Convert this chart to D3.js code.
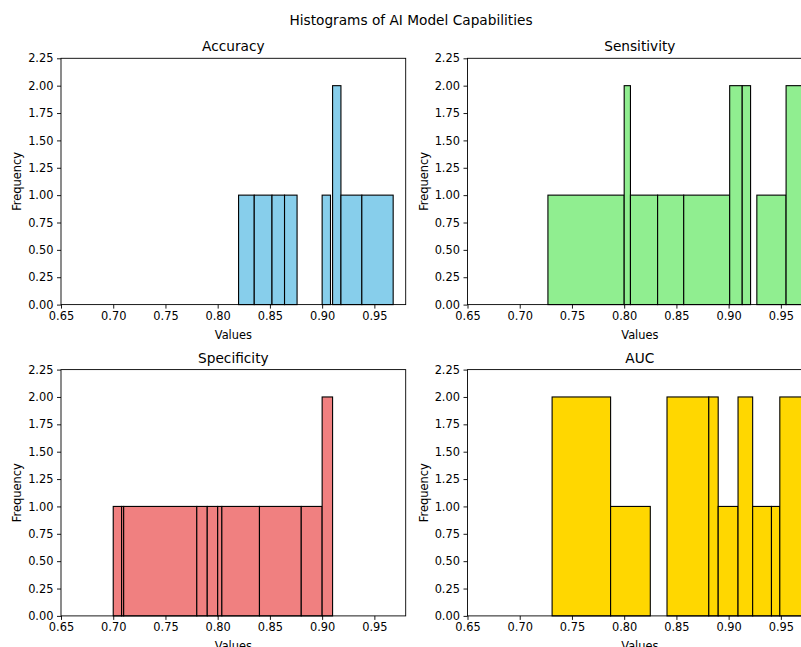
<!DOCTYPE html>
<html>
<head>
<meta charset="utf-8">
<script src="https://cdn.jsdelivr.net/npm/d3@7"></script>
<style>
  body { margin: 0; background: #fff; }
  svg { display: block; font-family: "DejaVu Sans", sans-serif; }
</style>
</head>
<body>
<script>
// Histogram bins (edges + counts per metric)
const titles = ["Accuracy", "Sensitivity", "Specificity", "AUC"];
const colors = ["#87ceeb", "#90ee90", "#f08080", "#ffd700"];

const accuracyEdges = [0.820, 0.835, 0.852, 0.864, 0.876, 0.900, 0.908, 0.910, 0.918, 0.938, 0.968];
const accuracyCounts = [1, 1, 1, 1, 0, 1, 0, 2, 1, 1];
const sensitivityEdges = [0.727, 0.800, 0.806, 0.832, 0.857, 0.901, 0.913, 0.921, 0.927, 0.955, 0.985];
const sensitivityCounts = [1, 2, 1, 1, 1, 2, 2, 0, 1, 2];
const specificityEdges = [0.700, 0.708, 0.710, 0.780, 0.790, 0.800, 0.804, 0.840, 0.880, 0.900, 0.910];
const specificityCounts = [1, 1, 1, 1, 1, 1, 1, 1, 1, 2];
const aucEdges = [0.731, 0.787, 0.825, 0.841, 0.881, 0.890, 0.909, 0.923, 0.941, 0.949, 0.985];
const aucCounts = [2, 1, 0, 2, 2, 1, 2, 1, 1, 2];

const xTicks = [0.65, 0.70, 0.75, 0.80, 0.85, 0.90, 0.95];
const yTicks = [0, 0.25, 0.5, 0.75, 1.0, 1.25, 1.5, 1.75, 2.0, 2.25];

const edgesList = [accuracyEdges, sensitivityEdges, specificityEdges, aucEdges];
const countsList = [accuracyCounts, sensitivityCounts, specificityCounts, aucCounts];

const W = 801, H = 647;
const svg = d3.select("body").append("svg")
    .attr("width", W)
    .attr("height", H);

// Figure title
svg.append("text")
    .attr("x", 411)
    .attr("y", 25)
    .attr("text-anchor", "middle")
    .attr("font-size", "13.7px")
    .text("Histograms of AI Model Capabilities");

// Axes boxes (left, top) — same size for each panel
const axW = 344.7, axH = 246.3;
const origins = [[61, 58.3], [467.5, 58.3], [61, 369.6], [467.5, 369.6]];

titles.forEach((name, i) => {
    const [ox, oy] = origins[i];
    const g = svg.append("g").attr("transform", "translate(" + ox + "," + oy + ")");

    const x = d3.scaleLinear().domain([0.65, 0.98]).range([0, axW]);
    const y = d3.scaleLinear().domain([0, 2.25]).range([axH, 0]);

    const edges = edgesList[i];
    const bins = countsList[i].map((c, k) => ({ x0: edges[k], x1: edges[k + 1], n: c }));

    g.selectAll("rect.bar")
        .data(bins)
        .enter().append("rect")
        .attr("class", "bar")
        .attr("x", d => x(d.x0))
        .attr("y", d => y(d.n))
        .attr("width", d => x(d.x1) - x(d.x0))
        .attr("height", d => y(0) - y(d.n))
        .attr("fill", colors[i])
        .attr("stroke", "#000")
        .attr("stroke-width", 1.1);

    // X axis
    const xa = g.append("g")
        .attr("transform", "translate(0," + axH + ")")
        .call(d3.axisBottom(x).tickValues(xTicks).tickFormat(d3.format(".2f")).tickSize(4).tickPadding(3.5));
    // Y axis
    const ya = g.append("g")
        .call(d3.axisLeft(y).tickValues(yTicks).tickFormat(d3.format(".2f")).tickSize(4).tickPadding(3.5));

    [xa, ya].forEach(a => {
        a.select(".domain").remove();
        a.selectAll("line").attr("stroke", "#000").attr("stroke-width", 0.9);
        a.selectAll("text")
            .attr("fill", "#000")
            .attr("font-size", "11.4px")
            .attr("font-family", "DejaVu Sans, sans-serif");
    });

    // Frame
    g.append("rect")
        .attr("width", axW)
        .attr("height", axH)
        .attr("fill", "none")
        .attr("stroke", "#000")
        .attr("stroke-width", 0.9);

    // Subplot title
    g.append("text")
        .attr("x", axW / 2)
        .attr("y", -7)
        .attr("text-anchor", "middle")
        .attr("font-size", "13.7px")
        .text(name);

    // Axis labels
    g.append("text")
        .attr("x", axW / 2)
        .attr("y", axH + 34)
        .attr("text-anchor", "middle")
        .attr("font-size", "11.4px")
        .text("Values");

    g.append("text")
        .attr("transform", "translate(" + (-40) + "," + (axH / 2) + ") rotate(-90)")
        .attr("text-anchor", "middle")
        .attr("font-size", "11.4px")
        .text("Frequency");
});
</script>
</body>
</html>
